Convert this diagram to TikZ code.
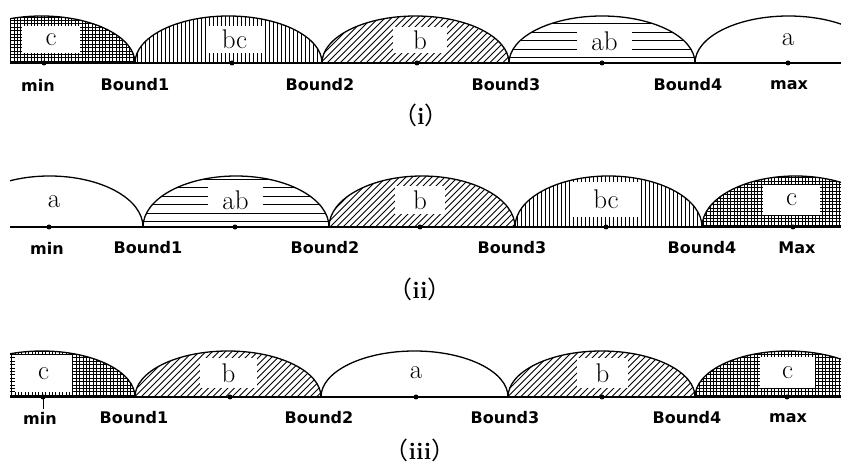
\documentclass[tikz,border=0pt]{standalone}
\usepackage{fontspec}
\newfontfamily\boundfont{DejaVu Sans}
\newfontfamily\cjk{Noto Sans CJK SC}
\tikzset{
  arcline/.style={line width=1.3pt},
  baseline/.style={line width=1.5pt},
  patline/.style={line width=0.85pt},
  dot/.style={circle,fill=black,inner sep=0pt,minimum size=5pt},
  blab/.style={font=\boundfont\bfseries\fontsize{16}{18}\selectfont,inner sep=0pt},
  letter/.style={font=\fontsize{27}{30}\selectfont,inner sep=0pt},
  lbox/.style={fill=white,inner sep=0pt,font=\fontsize{27}{30}\selectfont},
  caption/.style={inner sep=0pt},
}
% outline of one hump: L R base H
\newcommand\hump[4]{%
  \draw[arcline] (#1,#3) arc[start angle=180,end angle=0,x radius={(#2-#1)/2},y radius=#4];
}
\newcommand\humpclip[4]{%
  \clip (#1,#3) arc[start angle=180,end angle=0,x radius={(#2-#1)/2},y radius=#4] -- cycle;
}
\newcommand\patV[4]{\begin{scope}\humpclip{#1}{#2}{#3}{#4}
  \foreach \k in {0,...,50} \draw[patline] ({#1+2+\k*4},#3) -- ++(0,#4);
  \end{scope}}
\newcommand\patG[4]{\begin{scope}\humpclip{#1}{#2}{#3}{#4}
  \foreach \k in {0,...,56} \draw[patline] ({#1+1.5+\k*3.4},#3) -- ++(0,#4);
  \foreach \k in {0,...,16} \draw[patline] (#1,{#3+1.7+\k*3.4}) -- (#2,{#3+1.7+\k*3.4});
  \end{scope}}
\newcommand\patD[4]{\begin{scope}\humpclip{#1}{#2}{#3}{#4}
  \foreach \k in {0,...,40} \draw[patline] ({#1-#4+\k*6.5},#3) -- ++(#4+5,#4+5);
  \end{scope}}
\newcommand\patH[4]{\begin{scope}\humpclip{#1}{#2}{#3}{#4}
  \foreach \k in {0,...,5} \draw[patline] (#1,{#3+5.5+\k*8.5}) -- (#2,{#3+5.5+\k*8.5});
  \end{scope}}
\newcommand\capt[1]{{\cjk\fontsize{24}{26}\selectfont （}{\bfseries\fontsize{24}{26}\selectfont #1}{\cjk\fontsize{24}{26}\selectfont ）}}
\begin{document}
\begin{tikzpicture}[x=1pt,y=1pt]
\useasboundingbox (0,0) rectangle (841,465);
\begin{scope}
\clip (10,0) rectangle (841,465);
% row (i) patterns
\patG{-52}{135}{402}{47}
\patV{135}{322}{402}{47}
\patD{322}{509}{402}{47}
\patH{509}{695}{402}{47}
% row (ii) patterns
\patH{143}{329}{238}{51}
\patD{329}{515}{238}{51}
\patV{515}{702}{238}{51}
\patG{702}{889}{238}{51}
% row (iii) patterns
\patG{-51}{135}{68}{46}
\patD{135}{321}{68}{46}
\patD{508}{695}{68}{46}
\patG{695}{881}{68}{46}
\end{scope}
% label boxes and letters
% row (i)
\node[lbox,minimum width=58pt,minimum height=27pt] (i-c) at (51,425.5) {c};
\node[lbox,minimum width=55pt,minimum height=27pt] (i-bc) at (234.5,425.5) {bc};
\node[lbox,minimum width=54pt,minimum height=26pt] (i-b) at (420,425) {b};
\node[lbox,minimum width=55pt,minimum height=26pt] (i-ab) at (604.5,424) {ab};
\node[letter] (i-a) at (788,425) {a};
% row (ii)
\node[letter] (ii-a) at (54,263) {a};
\node[lbox,minimum width=55pt,minimum height=26pt] (ii-ab) at (235.5,265) {ab};
\node[lbox,minimum width=50pt,minimum height=28pt] (ii-b) at (420,265) {b};
\node[lbox,minimum width=68pt,minimum height=35pt] (ii-bc) at (606,265.5) {bc};
\node[lbox,minimum width=57pt,minimum height=30pt] (ii-c) at (791.5,265) {c};
% row (iii)
\node[lbox,minimum width=57pt,minimum height=37pt] (iii-c1) at (43.5,91.5) {c};
\node[lbox,minimum width=57pt,minimum height=30pt] (iii-b1) at (228.5,92) {b};
\node[letter] (iii-a) at (416,92) {a};
\node[lbox,minimum width=51pt,minimum height=30pt] (iii-b2) at (602.5,92) {b};
\node[lbox,minimum width=55pt,minimum height=31pt] (iii-c2) at (787.5,92.5) {c};
% outlines
\begin{scope}
\clip (10,0) rectangle (841,465);
\hump{-52}{135}{402}{47}
\hump{135}{322}{402}{47}
\hump{322}{509}{402}{47}
\hump{509}{695}{402}{47}
\hump{695}{882}{402}{47}
\hump{-44}{143}{238}{51}
\hump{143}{329}{238}{51}
\hump{329}{515}{238}{51}
\hump{515}{702}{238}{51}
\hump{702}{889}{238}{51}
\hump{-51}{135}{68}{46}
\hump{135}{321}{68}{46}
\hump{321}{508}{68}{46}
\hump{508}{695}{68}{46}
\hump{695}{881}{68}{46}
\end{scope}
% baselines
\coordinate (i-L) at (10,402); \coordinate (i-R) at (841,402);
\coordinate (ii-L) at (10,238); \coordinate (ii-R) at (841,238);
\coordinate (iii-L) at (10,68); \coordinate (iii-R) at (841,68);
\draw[baseline] (i-L) -- (i-R);
\draw[baseline] (ii-L) -- (ii-R);
\draw[baseline] (iii-L) -- (iii-R);
% dots
\foreach \x [count=\k] in {44,232,417,602,788} \node[dot] (i-d\k) at (\x,402) {};
\foreach \x [count=\k] in {49,235,420,606,793} \node[dot] (ii-d\k) at (\x,238) {};
\foreach \x [count=\k] in {43,230,416,602,787} \node[dot] (iii-d\k) at (\x,68) {};
\coordinate (iii-tick) at (43,56);
\draw[line width=1pt] (iii-d1.center) -- (iii-tick);
% bound labels
\node[blab] (i-min) at (38,380) {min};
\node[blab] (i-b1) at (135,380) {Bound1};
\node[blab] (i-b2) at (320,380) {Bound2};
\node[blab] (i-b3) at (506,380) {Bound3};
\node[blab] (i-b4) at (688,380) {Bound4};
\node[blab] (i-max) at (789,380) {max};
\node[blab] (ii-min) at (47,217) {min};
\node[blab] (ii-b1) at (148,217) {Bound1};
\node[blab] (ii-b2) at (325,217) {Bound2};
\node[blab] (ii-b3) at (512,217) {Bound3};
\node[blab] (ii-b4) at (702,217) {Bound4};
\node[blab] (ii-max) at (797,217) {Max};
\node[blab] (iii-min) at (40,47) {min};
\node[blab] (iii-b1) at (134,47) {Bound1};
\node[blab] (iii-b2) at (319,47) {Bound2};
\node[blab] (iii-b3) at (505,47) {Bound3};
\node[blab] (iii-b4) at (687,47) {Bound4};
\node[blab] (iii-max) at (788,47) {max};
% captions
\node[caption] (cap-i) at (421,350) {\capt{i}};
\node[caption] (cap-ii) at (420,176) {\capt{ii}};
\node[caption] (cap-iii) at (420,15) {\capt{iii}};
\end{tikzpicture}
\end{document}
